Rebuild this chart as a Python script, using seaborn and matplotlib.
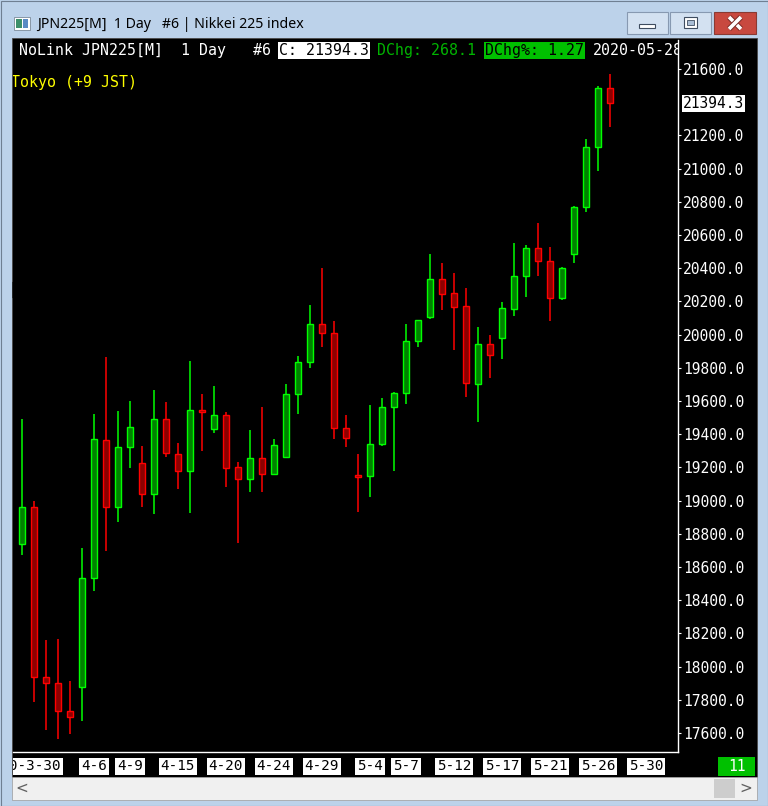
import numpy as np
import pandas as pd
import matplotlib
matplotlib.use("Agg")
import matplotlib.pyplot as plt
from matplotlib.patches import Rectangle, Polygon
from matplotlib.colors import LinearSegmentedColormap
import seaborn as sns

sns.set_theme(style="dark")
plt.rcParams['font.family'] = ['DejaVu Sans Mono', 'DejaVu Sans']

# daily candles, JPN225[M]
opens = [18739, 18962, 17937, 17901, 17733, 17877, 18534, 19365, 18962, 19323,
         19227, 19040, 19492, 19281, 19178, 19546, 19431, 19516, 19202, 19130,
         19257, 19160, 19263, 19642, 19835, 20064, 20010, 19437, 19154, 19148,
         19341, 19564, 19648, 19961, 20106, 20335, 20251, 20172, 19702, 19943,
         19980, 20154, 20353, 20522, 20443, 20220, 20486, 20769, 21130, 21486]
highs = [19492, 18998, 18160, 18166, 17913, 18715, 19522, 19865, 19540, 19600,
         19329, 19666, 19594, 19347, 19841, 19642, 19690, 19534, 19233, 19425,
         19564, 19371, 19702, 19871, 20178, 20401, 20082, 19516, 19281, 19576,
         19618, 19654, 20064, 20088, 20486, 20431, 20371, 20281, 20046, 19998,
         20196, 20552, 20540, 20672, 20528, 20407, 20775, 21178, 21498, 21570]
lows = [18672, 17787, 17618, 17564, 17594, 17672, 18455, 18696, 18871, 19196,
        18962, 18919, 19263, 19070, 18925, 19299, 19407, 19082, 18745, 19052,
        19052, 19155, 19255, 19522, 19799, 19925, 19371, 19323, 18931, 19022,
        19329, 19178, 19582, 19925, 20094, 20148, 19907, 19624, 19474, 19739,
        19853, 20112, 20227, 20353, 20082, 20208, 20431, 20739, 20986, 21251]
closes = [18962, 17937, 17901, 17733, 17696, 18534, 19371, 18962, 19323, 19443,
          19040, 19492, 19287, 19178, 19546, 19534, 19516, 19196, 19130, 19257,
          19160, 19335, 19642, 19835, 20064, 20010, 19437, 19377, 19142, 19341,
          19564, 19648, 19961, 20088, 20335, 20245, 20166, 19708, 19943, 19877,
          20160, 20353, 20522, 20443, 20220, 20401, 20769, 21130, 21486, 21394.3]

tick_idx = [0, 6, 9, 13, 17, 21, 25, 29, 32, 36, 40, 44, 48, 52]
tick_labels = ['2020-3-30', '4-6', '4-9', '4-15', '4-20', '4-24', '4-29',
               '5-4', '5-7', '5-12', '5-17', '5-21', '5-26', '5-30']
price_ticks = [v for v in range(17600, 21601, 200) if v != 21400]

last_close = 21394.3
day_chg = 268.1
day_chg_pct = 1.27
last_date = '2020-05-28'
title = 'JPN225[M]  1 Day   #6 | Nikkei 225 index'
header = 'NoLink JPN225[M]  1 Day   #6'
zone = 'Tokyo (+9 JST)'

df = pd.DataFrame({'open': opens, 'high': highs, 'low': lows, 'close': closes})
df['idx'] = np.arange(len(df))
df['up'] = df['close'] >= df['open']

W, H = 768, 806
fig = plt.figure(figsize=(W / 100, H / 100), dpi=100)


def px_box(l, t, r, b):
    return [l / W, 1 - b / H, (r - l) / W, (b - t) / H]


# ---- window chrome, drawn in pixel coords
bg = fig.add_axes([0, 0, 1, 1])
bg.axis('off')
bg.add_patch(Rectangle((0, 0), W, H, fc='#bcd2ea', ec='none'))
cmap = LinearSegmentedColormap.from_list('tb', ['#dbe7f4', '#c3d7ee'])
bg.imshow(np.linspace(0, 1, 38)[:, None], extent=(0, W, 38, 0), cmap=cmap,
          aspect='auto', origin='upper')
bg.set_xlim(0, W)
bg.set_ylim(H, 0)
bg.add_patch(Rectangle((0.5, 0.5), W - 1, H - 1, fill=False, ec='#6f7f92', lw=0.8))

# icon + title
bg.add_patch(Rectangle((14, 17), 16, 13, fc='white', ec='#7a8a9a', lw=0.6))
bg.add_patch(Rectangle((16, 19), 6, 9, fc='#3d8f6a', ec='none'))
bg.add_patch(Rectangle((23, 19), 5, 9, fc='#5b8bc4', ec='none'))
bg.text(37, 24, title, fontsize=10.2, family='Noto Sans', va='center', color='black')

# caption buttons
for l, r in [(627, 668), (670, 711)]:
    bg.add_patch(Rectangle((l, 12), r - l, 22, fc='#d3e1f1', ec='#8799b1', lw=0.8))
bg.add_patch(Rectangle((639, 24), 16, 4, fc='white', ec='#3f4d60', lw=0.8))
bg.add_patch(Rectangle((684, 17), 13, 11, fc='white', ec='#3f4d60', lw=0.8))
bg.add_patch(Rectangle((687, 20), 7, 5, fc='#a9bdd4', ec='#3f4d60', lw=0.6))
bg.add_patch(Rectangle((714, 12), 42, 22, fc='#c8493f', ec='#8a3a33', lw=0.8))
for (x0, y0, x1, y1) in [(729, 17, 741, 29), (741, 17, 729, 29)]:
    bg.plot([x0, x1], [y0, y1], color='#7a2a25', lw=4, solid_capstyle='butt')
    bg.plot([x0, x1], [y0, y1], color='white', lw=2.6, solid_capstyle='butt')

# black client area and scrollbar
bg.add_patch(Rectangle((12, 38), 745, 739, fc='black', ec='#4a4a4a', lw=0.6))
bg.add_patch(Rectangle((12, 777), 745, 23, fc='#f0f0f0', ec='#9a9a9a', lw=0.5))
bg.add_patch(Rectangle((714, 779), 21, 19, fc='#cdcdcd', ec='none'))
bg.text(22, 788.5, '<', fontsize=11, family='DejaVu Sans', color='#606060',
        ha='center', va='center')
bg.text(746, 788.5, '>', fontsize=11, family='DejaVu Sans', color='#606060',
        ha='center', va='center')
bg.add_patch(Rectangle((718, 757), 37, 19, fc='#00c000', ec='none'))
bg.text(736.5, 766.5, '11', fontsize=10.5, color='white', ha='center', va='center')

# x label strip
strip = fig.add_axes(px_box(13, 752, 678, 777))
strip.axis('off')
strip.set_xlim(-0.75, 54.667)
for i, lbl in zip(tick_idx, tick_labels):
    strip.text(i, 0.42, lbl, transform=strip.get_xaxis_transform(), fontsize=10.3,
               color='black', ha='center', va='center', clip_on=True,
               bbox=dict(fc='white', ec='none', pad=1.2))

# ---- main chart
ax = fig.add_axes(px_box(13, 40, 678, 752))
ax.set_facecolor('black')
for up, grp in df.groupby('up'):
    edge = '#00ff00' if up else '#ff0000'
    fill = '#008200' if up else '#8e0000'
    ax.vlines(grp['idx'], grp['low'], grp['high'], color=edge, lw=1.1, zorder=2)
    body = (grp['close'] - grp['open']).abs().clip(lower=8)
    ax.bar(grp['idx'], body, bottom=grp[['open', 'close']].min(axis=1), width=0.55,
           color=fill, edgecolor=edge, linewidth=1.0, zorder=3)

ax.set_xlim(-0.75, 54.667)
ax.set_ylim(17485.5, 21774.7)
ax.grid(False)
sns.despine(ax=ax, left=True, top=True, right=False, bottom=False)
for s in ['right', 'bottom']:
    ax.spines[s].set_color('white')
    ax.spines[s].set_linewidth(1.0)

ax.set_xticks(tick_idx)
ax.tick_params(axis='x', colors='white', length=3.5, width=0.8, direction='out',
               labelbottom=False)
ax.yaxis.tick_right()
ax.set_yticks(price_ticks)
ax.set_yticklabels([f'{v:.1f}' for v in price_ticks])
ax.tick_params(axis='y', colors='white', length=2.5, width=0.8, pad=1.2,
               labelsize=10.5, direction='out', right=True, labelright=True,
               left=False, labelleft=False)


def hx(p):
    return (p - 13) / 665


def hy(p):
    return (752 - p) / 712


# header line is one monospaced row; place each piece on its character column
cw = 8.96
hfs = 10.7
hyy = hy(50.5)
ax.text(hx(19), hyy, header, transform=ax.transAxes, fontsize=hfs, color='white',
        va='center', clip_on=True)
ax.text(hx(19 + 29 * cw), hyy, f'C: {last_close}', transform=ax.transAxes,
        fontsize=hfs, color='black', va='center',
        bbox=dict(fc='white', ec='none', pad=0.8))
ax.text(hx(19 + 40 * cw), hyy, f'DChg: {day_chg}', transform=ax.transAxes,
        fontsize=hfs, color='#00b400', va='center')
ax.text(hx(19 + 52 * cw), hyy, f'DChg%: {day_chg_pct}', transform=ax.transAxes,
        fontsize=hfs, color='black', va='center',
        bbox=dict(fc='#00c000', ec='none', pad=0.8))
ax.text(hx(19 + 64 * cw), hyy, last_date, transform=ax.transAxes, fontsize=hfs,
        color='white', va='center', clip_on=True)
ax.text(hx(11), hy(83), zone, transform=ax.transAxes, fontsize=hfs, color='#ffff00',
        va='center', clip_on=True)

ax.text(hx(683), last_close, f'{last_close}', transform=ax.get_yaxis_transform(),
        fontsize=10.5, color='black', va='center', clip_on=False,
        bbox=dict(fc='white', ec='none', pad=0.6))

# mouse pointer
ptr = [(13, 282), (13, 298), (16.5, 294.5), (19.5, 300.5), (21.5, 299.5),
       (18.5, 293.8), (23, 293.8)]
bg.add_patch(Polygon(ptr, closed=True, fc='white', ec='black', lw=0.7, zorder=10))
bg.set_zorder(0)
strip.set_zorder(1)
ax.set_zorder(2)

fig.savefig('out.png', dpi=100)
